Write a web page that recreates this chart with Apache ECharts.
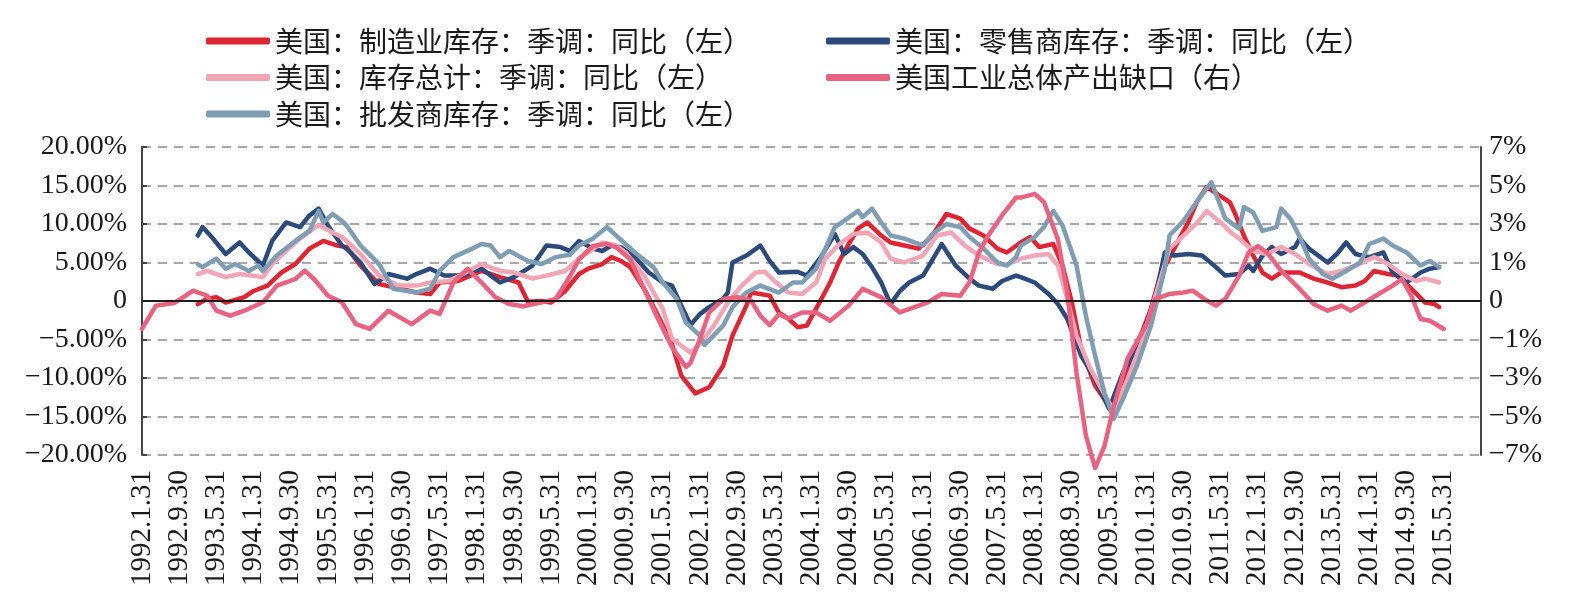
<!DOCTYPE html>
<html>
<head>
<meta charset="utf-8">
<script src="https://cdn.jsdelivr.net/npm/echarts@6.0.0/dist/echarts.min.js"></script>
<style>
html, body { margin: 0; padding: 0; background: #fff; }
#chart { width: 1586px; height: 615px; }
</style>
</head>
<body>
<div id="chart"></div>
<script>
// x 轴标签，每 8 个月一个 (月序号 0 = 1992.1)
var xLabels = ['1992.1.31', '1992.9.30', '1993.5.31', '1994.1.31', '1994.9.30', '1995.5.31',
    '1996.1.31', '1996.9.30', '1997.5.31', '1998.1.31', '1998.9.30', '1999.5.31',
    '2000.1.31', '2000.9.30', '2001.5.31', '2002.1.31', '2002.9.30', '2003.5.31',
    '2004.1.31', '2004.9.30', '2005.5.31', '2006.1.31', '2006.9.30', '2007.5.31',
    '2008.1.31', '2008.9.30', '2009.5.31', '2010.1.31', '2010.9.30', '2011.5.31',
    '2012.1.31', '2012.9.30', '2013.5.31', '2014.1.31', '2014.9.30', '2015.5.31']
var leftTickLabels = ['−20.00%', '−15.00%', '−10.00%', '−5.00%', '0', '5.00%', '10.00%', '15.00%', '20.00%']
var rightTickLabels = ['−7%', '−5%', '−3%', '−1%', '0', '1%', '3%', '5%', '7%']

var names = [
    '美国：制造业库存：季调：同比（左）',
    '美国：零售商库存：季调：同比（左）',
    '美国：库存总计：季调：同比（左）',
    '美国工业总体产出缺口（右）',
    '美国：批发商库存：季调：同比（左）'
]

// [月序号, 值]
var mfgData = [[12, -0.4], [14, 0.3], [16, 0.5], [18, -0.2], [22, 0.5], [24, 1.3], [27, 2.0], [30, 3.7], [33, 4.8],
    [36, 6.8], [39, 7.8], [42, 7.2], [44, 7.0], [47, 4.6], [51, 2.2], [54, 1.8], [59, 1.1], [62, 0.9], [64, 2.4],
    [68, 2.6], [73, 3.9], [77, 3.1], [81, 2.4], [83, -0.1], [86, 0.0], [88, -0.2], [91, 1.3], [94, 3.5], [96, 4.2],
    [99, 4.8], [101, 5.7], [103, 5.2], [105, 4.4], [108, 1.6], [111, -1.9], [114, -5.6], [116, -9.7], [119, -12.0],
    [122, -11.2], [125, -8.4], [127, -4.5], [130, -0.6], [131, 1.1], [135, 0.7], [137, -1.5], [139, -2.3], [141, -3.4],
    [143, -3.2], [145, -1.0], [148, 2.4], [150, 5.2], [152, 7.4], [154, 9.4], [156, 10.2], [159, 8.5], [161, 7.6],
    [164, 7.2], [167, 6.8], [170, 8.5], [173, 11.3], [176, 10.7], [178, 9.4], [181, 8.5], [184, 6.8], [186, 6.3],
    [189, 7.6], [191, 8.3], [193, 7.0], [196, 7.4], [198, 4.6], [200, -0.2], [202, -6.2], [205, -11.0], [208, -13.6],
    [209, -14.5], [211, -11.0], [214, -5.8], [217, -1.0], [219, 3.3], [222, 6.8], [225, 10.2], [227, 13.0], [229, 14.8],
    [231, 14.0], [234, 12.8], [235, 11.5], [237, 8.5], [239, 5.9], [241, 3.7], [243, 2.9], [245, 3.7], [249, 3.7],
    [252, 2.9], [255, 2.4], [258, 1.8], [261, 2.0], [263, 2.6], [265, 3.9], [268, 3.5], [270, 3.3], [273, 1.6],
    [276, -0.2], [278, -0.4], [279, -0.8]]

var retailData = [[12, 8.5], [13, 9.6], [15, 8.3], [18, 6.1], [21, 7.6], [23, 6.3], [26, 4.6], [28, 7.8], [31, 10.2],
    [34, 9.6], [36, 11.1], [38, 12.0], [40, 9.8], [43, 7.2], [44, 6.8], [47, 5.0], [50, 2.2], [53, 3.5], [57, 2.9],
    [59, 3.5], [62, 4.2], [65, 3.3], [69, 3.3], [73, 4.2], [77, 2.4], [80, 3.1], [84, 4.6], [87, 7.2], [90, 7.0],
    [92, 6.5], [94, 7.8], [97, 6.8], [99, 6.5], [101, 7.2], [103, 7.0], [106, 5.7], [109, 3.7], [112, 2.4], [114, 2.0],
    [116, -0.6], [118, -3.1], [120, -1.7], [122, -0.8], [125, 0.3], [126, 1.1], [127, 5.0], [130, 5.9], [133, 7.2],
    [135, 5.2], [137, 3.7], [141, 3.8], [143, 3.3], [146, 5.7], [149, 8.7], [151, 6.1], [153, 7.0], [155, 6.1],
    [157, 4.4], [159, 2.4], [161, -0.4], [163, 1.3], [165, 2.4], [168, 3.3], [172, 7.4], [175, 4.6], [178, 2.9],
    [180, 2.0], [183, 1.6], [185, 2.6], [188, 3.3], [189, 3.1], [192, 2.4], [195, 0.9], [197, -0.4], [199, -2.3],
    [202, -7.1], [205, -10.1], [208, -14.0], [211, -9.3], [215, -4.9], [218, 0.7], [220, 6.3], [222, 5.9], [225, 6.1],
    [228, 5.9], [231, 4.4], [233, 3.3], [236, 3.5], [238, 4.6], [239, 3.9], [241, 5.9], [243, 7.0], [245, 6.1],
    [248, 7.0], [249, 8.1], [251, 6.8], [255, 5.0], [257, 6.1], [259, 7.6], [261, 6.1], [264, 5.7], [267, 6.3],
    [269, 3.7], [272, 2.4], [275, 3.7], [277, 4.2], [279, 4.4]]

var totalData = [[12, 3.5], [14, 3.9], [18, 3.1], [21, 3.5], [26, 3.1], [28, 4.8], [31, 6.5], [34, 8.1], [38, 9.9],
    [41, 8.9], [43, 8.3], [44, 7.8], [47, 6.1], [51, 3.3], [55, 2.0], [59, 2.0], [62, 2.4], [66, 2.6], [69, 3.5],
    [73, 4.8], [77, 3.9], [80, 3.7], [84, 2.9], [87, 3.3], [91, 3.9], [94, 5.5], [99, 7.6], [102, 7.2], [104, 6.3],
    [108, 3.3], [112, -1.0], [114, -4.9], [118, -6.7], [120, -5.6], [123, -3.2], [126, -0.2], [129, 2.0], [132, 3.7],
    [134, 3.8], [136, 2.6], [139, 1.1], [142, 0.9], [145, 2.4], [147, 5.5], [150, 7.4], [153, 8.7], [156, 8.9],
    [159, 7.6], [161, 5.5], [164, 5.0], [168, 5.9], [171, 8.5], [174, 8.9], [177, 7.2], [180, 5.9], [184, 4.8],
    [186, 4.7], [189, 5.5], [192, 5.9], [195, 6.1], [197, 4.6], [199, 0.3], [201, -4.5], [204, -8.8], [208, -13.2],
    [209, -14.3], [212, -10.1], [215, -5.4], [218, 0.7], [221, 6.8], [224, 8.5], [227, 10.2], [229, 11.7], [232, 10.2],
    [234, 9.0], [236, 8.1], [239, 6.5], [242, 6.1], [245, 7.0], [248, 6.1], [251, 4.8], [255, 3.5], [258, 3.9],
    [261, 4.6], [265, 5.7], [268, 4.8], [271, 3.5], [274, 2.6], [276, 2.9], [279, 2.4]]

var wholesaleData = [[12, 4.8], [13, 4.4], [16, 5.5], [18, 4.2], [20, 4.8], [23, 3.9], [25, 4.6], [26, 3.9], [29, 5.9],
    [33, 7.8], [36, 9.1], [38, 11.7], [39, 10.2], [41, 11.3], [43, 10.4], [44, 9.8], [47, 7.2], [51, 4.8], [54, 1.6],
    [59, 1.1], [62, 1.6], [64, 3.9], [67, 5.7], [71, 6.8], [73, 7.4], [75, 7.2], [77, 5.7], [79, 6.5], [83, 5.2],
    [86, 4.8], [89, 5.7], [92, 6.0], [94, 7.2], [97, 8.1], [100, 9.6], [102, 8.5], [106, 6.3], [110, 4.4], [112, 2.4],
    [115, 0.3], [117, -2.8], [120, -4.5], [121, -5.7], [125, -3.2], [127, -0.8], [130, 1.1], [133, 2.0], [137, 1.1],
    [140, 2.4], [142, 2.4], [145, 4.2], [147, 6.8], [149, 9.6], [151, 10.4], [154, 11.7], [155, 10.9], [157, 12.0],
    [159, 10.2], [161, 8.5], [164, 8.1], [168, 7.2], [170, 8.7], [173, 10.0], [176, 9.6], [178, 8.3], [181, 6.8],
    [184, 5.0], [186, 4.6], [188, 5.7], [189, 7.2], [192, 8.3], [194, 9.6], [196, 11.7], [198, 9.8], [201, 4.6],
    [203, -1.9], [205, -7.1], [207, -11.9], [209, -15.3], [211, -12.7], [214, -8.4], [217, -3.2], [220, 4.2],
    [221, 8.5], [224, 10.4], [227, 13.0], [230, 15.4], [231, 13.9], [233, 10.7], [236, 9.4], [237, 12.2], [239, 11.5],
    [241, 9.1], [244, 9.6], [245, 12.0], [247, 10.7], [249, 8.3], [251, 5.5], [254, 3.5], [256, 2.9], [259, 3.9],
    [262, 5.0], [264, 7.4], [267, 8.1], [269, 7.2], [272, 6.3], [275, 4.6], [277, 5.2], [279, 4.4]]

// 右轴
var gapData = [[0, -1.27], [3, -0.21], [7, -0.09], [11, 0.47], [14, 0.24], [16, -0.44], [19, -0.67], [22, -0.44],
    [26, -0.06], [29, 0.7], [33, 1.0], [35, 1.38], [37, 1.0], [40, 0.24], [43, -0.06], [46, -1.05], [49, -1.27],
    [53, -0.44], [58, -1.05], [62, -0.44], [64, -0.59], [67, 0.85], [70, 1.46], [73, 0.85], [76, 0.17], [79, -0.14],
    [82, -0.24], [86, -0.06], [89, 0.09], [92, 1.1], [94, 1.9], [97, 2.5], [100, 2.6], [102, 2.44], [105, 1.9],
    [108, 0.55], [111, -0.82], [114, -2.1], [117, -3.0], [118, -2.8], [120, -1.73], [122, -0.52], [125, 0.09],
    [128, 0.17], [131, 0.02], [133, -0.67], [135, -1.1], [137, -0.6], [139, -0.8], [142, -0.52], [145, -0.52],
    [148, -0.9], [152, -0.21], [155, 0.55], [159, 0.17], [163, -0.52], [166, -0.29], [169, -0.06], [172, 0.32],
    [176, 0.24], [178, 0.85], [180, 2.2], [182, 2.97], [185, 3.9], [188, 4.7], [189, 4.7], [192, 4.87], [194, 4.5],
    [197, 2.8], [199, 0.39], [201, -3.25], [203, -6.1], [205, -7.6], [207, -6.6], [209, -4.8], [212, -2.6],
    [216, -1.1], [218, 0.09], [221, 0.32], [224, 0.39], [226, 0.47], [229, 0.02], [231, -0.21], [233, 0.1],
    [236, 1.15], [238, 2.2], [240, 2.5], [242, 2.2], [245, 1.38], [249, 0.55], [252, -0.14], [255, -0.44],
    [258, -0.21], [260, -0.44], [263, -0.06], [266, 0.32], [269, 0.7], [271, 1.0], [273, 0.24], [275, -0.82],
    [277, -0.9], [280, -1.27]]

var colors = ['#dd2534', '#2c4b7b', '#f2a6b5', '#e8637f', '#7f9db3']
var serif = '"Liberation Serif", "Times New Roman", serif'
var cjk = '"Noto Sans CJK SC", "Liberation Serif", sans-serif'

var chart = echarts.init(document.getElementById('chart'))

function lineSeries(i, data, yIdx) {
    return {
        name: names[i],
        type: 'line',
        yAxisIndex: yIdx,
        data: data,
        symbol: 'none',
        clip: false,
        color: colors[i],
        lineStyle: { width: 4.5, color: colors[i], cap: 'round', join: 'round' }
    }
}

var legendText = { fontSize: 28, fontFamily: cjk, color: '#1a1a1a', lineHeight: 30 }

var mfgSeries = lineSeries(0, mfgData, 0)
// 0 轴实线
mfgSeries.markLine = {
    silent: true,
    symbol: ['none', 'none'],
    label: { show: false },
    lineStyle: { color: '#1a1a1a', type: 'solid', width: 2 },
    data: [{ yAxis: 0 }]
}

chart.setOption({
    animation: false,
    backgroundColor: '#fff',
    grid: { left: 142, right: 105, top: 147, bottom: 160 },
    legend: [{
        orient: 'vertical',
        left: 201,
        top: 21,
        itemWidth: 64,
        itemHeight: 7,
        itemGap: 6.5,
        icon: 'roundRect',
        textStyle: legendText,
        data: [names[0], names[2], names[4]]
    }, {
        orient: 'vertical',
        left: 821,
        top: 21,
        itemWidth: 64,
        itemHeight: 7,
        itemGap: 6.5,
        icon: 'roundRect',
        textStyle: legendText,
        data: [names[1], names[3]]
    }],
    xAxis: {
        type: 'value',
        min: 0,
        max: 288,
        interval: 8,
        axisLine: { show: false },
        axisTick: { show: false },
        splitLine: { show: false },
        axisLabel: {
            rotate: 90,
            margin: 15,
            padding: [9, 0, 0, 0],
            showMinLabel: true,
            showMaxLabel: true,
            fontSize: 29,
            fontFamily: serif,
            color: '#1a1a1a',
            formatter: function (v) {
                return xLabels[Math.round(v / 8)] || ''
            }
        }
    },
    yAxis: [{
        type: 'value',
        min: -20,
        max: 20,
        interval: 5,
        axisLine: { show: true, lineStyle: { color: '#444', width: 2 } },
        axisTick: { show: true, inside: true, length: 5, lineStyle: { color: '#444', width: 2 } },
        splitLine: { show: true, lineStyle: { color: '#8a8a8a', type: [9, 7], width: 1.5 } },
        axisLabel: {
            margin: 15,
            fontSize: 28,
            fontFamily: serif,
            color: '#1a1a1a',
            formatter: function (v) {
                return leftTickLabels[Math.round((v + 20) / 5)]
            }
        }
    }, {
        type: 'value',
        position: 'right',
        min: -7,
        max: 7,
        interval: 1.75,
        axisLine: { show: true, lineStyle: { color: '#444', width: 2 } },
        axisTick: { show: false },
        splitLine: { show: false },
        axisLabel: {
            margin: 8,
            fontSize: 28,
            fontFamily: serif,
            color: '#1a1a1a',
            formatter: function (v) {
                return rightTickLabels[Math.round((v + 7) / 1.75)]
            }
        }
    }],
    series: [
        mfgSeries,
        lineSeries(1, retailData, 0),
        lineSeries(2, totalData, 0),
        lineSeries(4, wholesaleData, 0),
        lineSeries(3, gapData, 1)
    ]
})
</script>
</body>
</html>
